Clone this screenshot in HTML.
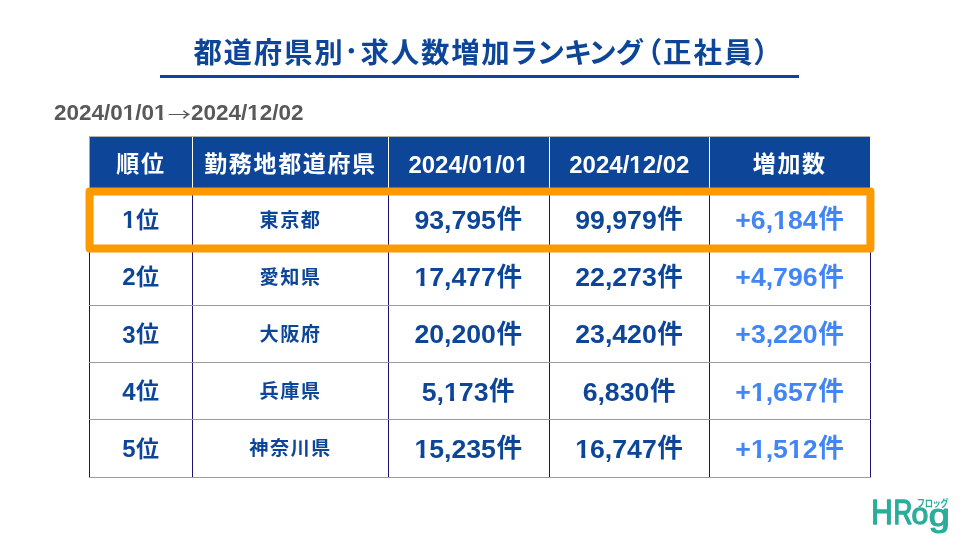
<!DOCTYPE html>
<html lang="ja">
<head>
<meta charset="utf-8">
<title>都道府県別･求人数増加ランキング（正社員）</title>
<style>
*{margin:0;padding:0;box-sizing:border-box}
html,body{width:960px;height:540px;background:#fff;overflow:hidden}
body{position:relative;font-family:"Liberation Sans","Noto Sans CJK JP",sans-serif;font-weight:bold;color:#0d4699}
#stage{position:absolute;left:0;top:0;width:960px;height:540px;will-change:transform}
.abs{position:absolute}
.j{font-size:96%;margin:0 .021em}
.o{display:inline-block;line-height:1;clip-path:polygon(0 0,100% 0,100% .7em,.379em .7em,.379em 1em,.225em 1em,.225em .7em,0 .7em)}
#title{left:0;width:960px;top:33.4px;height:40px;line-height:40px;text-align:left;padding-left:193.4px;font-size:28.45px;letter-spacing:1.78px;white-space:nowrap;font-feature-settings:"palt"}
#title .dt{position:relative;top:-1px;left:-0.3px}
#title .ka{letter-spacing:0.3px}
#title .pa{letter-spacing:2.1px;margin-left:3.5px}
#rule{left:160.3px;width:639.2px;top:74.9px;height:3.1px;background:#0d4699}
#date{left:54px;top:100.5px;font-size:22.5px;line-height:24px;color:#595959;white-space:nowrap}
#date .ar{font-family:"Noto Sans CJK JP",sans-serif;font-weight:400;font-size:23.2px;display:inline-block;width:24.4px;transform:translate(0.5px,0.6px) scaleY(0.72);text-align:center;line-height:24px;vertical-align:top}
#hdr{left:89px;top:136px;width:781px;height:56px;background:#0d4699;border-top:1px solid #b9b3ac;border-left:1px solid #a9a6a6}
.c{position:absolute;display:flex;align-items:center;justify-content:center;white-space:nowrap;line-height:1}
.h{top:137.2px;height:54.7px;color:#fff;font-size:24px;letter-spacing:0.65px}
.r1{top:191.7px;height:57.2px}
.r2{top:248.9px;height:57.2px}
.r3{top:306.1px;height:57.2px}
.r4{top:363.3px;height:57.2px}
.r5{top:420.5px;height:57.2px}
.k1{left:89.4px;width:103.1px;font-size:24px}
.k2{left:192.5px;width:196px;font-size:19.2px;letter-spacing:1.4px}
.k3{left:388px;width:161px;font-size:26.67px}
.k4{left:549.2px;width:160.3px;font-size:26.67px}
.k5{left:709.6px;width:160.4px;font-size:26.67px;color:#4285f4}
.h.k1,.h.k2,.h.k3,.h.k4,.h.k5{font-size:24px;color:#fff}
.h.k1,.h.k2,.h.k5{font-size:23px;letter-spacing:1.65px}
.h.k3,.h.k4{letter-spacing:0}
.h.k1,.h.k2,.h.k5{top:137.2px}
.vl{width:1px;background:#1d1272;top:191px;height:286.6px}
.vh{width:1px;background:#fff;top:137px;height:54px}
.hl{left:89px;width:782px;height:1px;background:#9b9b9b}
</style>
</head>
<body>
<div id="stage">
<div id="title" class="abs">都道府県別<span class="dt">･</span>求人数増加<span class="ka">ランキング</span><span class="pa">（正社員）</span></div>
<div id="rule" class="abs"></div>
<div id="date" class="abs">2024/0<span class="o">1</span>/0<span class="o">1</span><span class="ar">→</span>2024/<span class="o">1</span>2/02</div>

<div id="hdr" class="abs"></div>
<div class="c h k1">順位</div>
<div class="c h k2">勤務地都道府県</div>
<div class="c h k3">2024/0<span class="o">1</span>/0<span class="o">1</span></div>
<div class="c h k4">2024/<span class="o">1</span>2/02</div>
<div class="c h k5">増加数</div>

<div class="c r1 k1"><span class="o">1</span><span class="j">位</span></div><div class="c r1 k2">東京都</div><div class="c r1 k3">93,795<span class="j">件</span></div><div class="c r1 k4">99,979<span class="j">件</span></div><div class="c r1 k5">+6,<span class="o">1</span>84<span class="j">件</span></div>
<div class="c r2 k1">2<span class="j">位</span></div><div class="c r2 k2">愛知県</div><div class="c r2 k3"><span class="o">1</span>7,477<span class="j">件</span></div><div class="c r2 k4">22,273<span class="j">件</span></div><div class="c r2 k5">+4,796<span class="j">件</span></div>
<div class="c r3 k1">3<span class="j">位</span></div><div class="c r3 k2">大阪府</div><div class="c r3 k3">20,200<span class="j">件</span></div><div class="c r3 k4">23,420<span class="j">件</span></div><div class="c r3 k5">+3,220<span class="j">件</span></div>
<div class="c r4 k1">4<span class="j">位</span></div><div class="c r4 k2">兵庫県</div><div class="c r4 k3">5,<span class="o">1</span>73<span class="j">件</span></div><div class="c r4 k4">6,830<span class="j">件</span></div><div class="c r4 k5">+<span class="o">1</span>,657<span class="j">件</span></div>
<div class="c r5 k1">5<span class="j">位</span></div><div class="c r5 k2">神奈川県</div><div class="c r5 k3"><span class="o">1</span>5,235<span class="j">件</span></div><div class="c r5 k4"><span class="o">1</span>6,747<span class="j">件</span></div><div class="c r5 k5">+<span class="o">1</span>,5<span class="o">1</span>2<span class="j">件</span></div>

<div class="abs vl" style="left:89px"></div>
<div class="abs vl" style="left:192px"></div>
<div class="abs vl" style="left:388px"></div>
<div class="abs vl" style="left:549px"></div>
<div class="abs vl" style="left:709px"></div>
<div class="abs vl" style="left:870px"></div>
<div class="abs vh" style="left:192px"></div>
<div class="abs vh" style="left:388px"></div>
<div class="abs vh" style="left:549px"></div>
<div class="abs vh" style="left:709px"></div>
<div class="abs hl" style="top:248px"></div>
<div class="abs hl" style="top:305px"></div>
<div class="abs hl" style="top:362px"></div>
<div class="abs hl" style="top:419px"></div>
<div class="abs hl" style="top:477px"></div>

<svg id="box" class="abs" style="left:80px;top:182px" width="800" height="76" viewBox="80 182 800 76"><rect x="89.55" y="191.45" width="780.85" height="57.05" fill="none" stroke="#ff9900" stroke-width="8" stroke-linejoin="round"/></svg>

<svg id="logo" class="abs" style="left:860px;top:490px" width="100" height="50" viewBox="860 490 100 50" font-family="Liberation Sans, sans-serif" fill="#2cac9a">
<g font-weight="normal" stroke="#2cac9a" stroke-width="1.3" stroke-linejoin="round" style="vector-effect:non-scaling-stroke">
<text vector-effect="non-scaling-stroke" transform="translate(871.21 523.85) scale(0.2972 0.3445)" font-size="100">H</text>
<text vector-effect="non-scaling-stroke" transform="translate(893.51 523.85) scale(0.2610 0.3445)" font-size="100">R</text>
<text vector-effect="non-scaling-stroke" transform="translate(911.38 524.06) scale(0.3028 0.2938)" font-size="100">o</text>
<text vector-effect="non-scaling-stroke" transform="translate(928.66 525.60) scale(0.3780 0.3158)" font-size="100">g</text>
</g>
<text transform="translate(917.3 506.8) scale(0.93 1.1)" font-family="Liberation Sans, Noto Sans CJK JP, sans-serif" font-weight="bold" font-size="9" style="font-feature-settings:'palt'">フロッグ</text>
</svg>
</div>
</body>
</html>
